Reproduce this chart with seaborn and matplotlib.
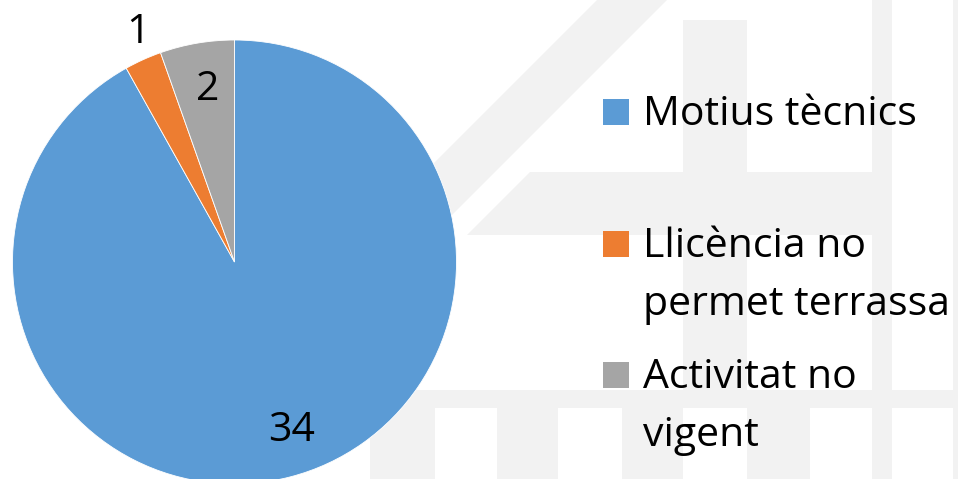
import numpy as np
import matplotlib
matplotlib.use("Agg")
import matplotlib.pyplot as plt
import seaborn as sns

categories = ["Motius tècnics", "Llicència no\npermet terrassa", "Activitat no\nvigent"]
values = [34, 1, 2]
colors = ["#5B9BD5", "#ED7D31", "#A5A5A5"]
# where each number sits: fraction of radius, and a small angle nudge (deg) like Excel's best fit
label_dist = [0.78, 1.14, 0.81]
label_nudge = [4.5, -2.0, -1.0]

sns.set_theme(style="white")
plt.rcParams['font.family'] = ['Open Sans', 'DejaVu Sans']
FS = 29.5

W, H = 958, 479
fig = plt.figure(figsize=(W / 100, H / 100), dpi=100)

# background layer in pixel coords: faint watermark + legend
bg = fig.add_axes([0, 0, 1, 1])
bg.set_xlim(0, W)
bg.set_ylim(H, 0)
bg.axis("off")
wm = "#f2f2f2"
shapes = [
    [(597, 0), (667, 0), (432, 235), (362, 235)],
    [(530, 172), (892, 172), (892, 235), (467, 235)],
    [(683, 20), (747, 20), (747, 390), (683, 390)],
    [(872, 0), (892, 0), (892, 479), (872, 479)],
    [(953, 0), (958, 0), (958, 479), (953, 479)],
    [(360, 390), (958, 390), (958, 408), (360, 408)],
]
for x0, x1 in [(370, 435), (497, 558), (622, 683), (747, 810)]:
    shapes.append([(x0, 408), (x1, 408), (x1, 479), (x0, 479)])
for s in shapes:
    xs, ys = zip(*s)
    bg.fill(xs, ys, color=wm, lw=0)

# legend drawn by hand, Excel style
baselines = [125, 257, 388]
for lab, c, yb in zip(categories, sns.color_palette(colors), baselines):
    bg.add_patch(plt.Rectangle((603, yb - 26), 26, 26, color=c, lw=0))
    for i, line in enumerate(lab.split("\n")):
        bg.text(643, yb + i * 58, line, fontsize=FS, va="baseline", ha="left", color="black")

# pie
R = 222
cx, cy = 234.5, H - 262
ax = fig.add_axes([(cx - R) / W, (cy - R) / H, 2 * R / W, 2 * R / H])
wedges, _ = ax.pie(values, colors=sns.color_palette(colors), startangle=90, counterclock=False,
                   radius=1, wedgeprops=dict(edgecolor="white", linewidth=0.6))
ax.set_xlim(-1, 1)
ax.set_ylim(-1, 1)
ax.set_aspect("equal")
ax.axis("off")
for w, v, d, n in zip(wedges, values, label_dist, label_nudge):
    ang = np.deg2rad((w.theta1 + w.theta2) / 2 + n)
    ax.text(d * np.cos(ang), d * np.sin(ang), str(v), fontsize=FS, ha="center",
            va="center_baseline", color="black", clip_on=False)

fig.savefig("out.png", dpi=100)
